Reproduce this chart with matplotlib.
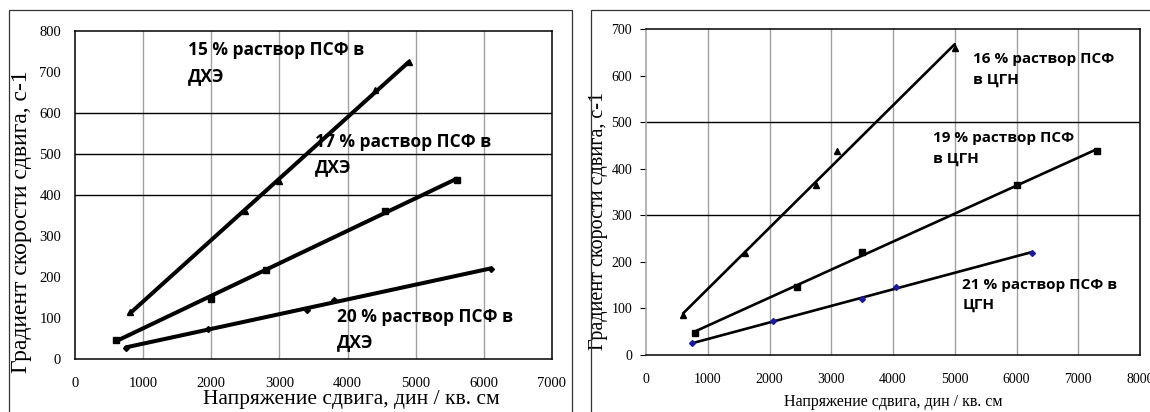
import numpy as np
import matplotlib
matplotlib.use("Agg")
import matplotlib.pyplot as plt
from matplotlib.patches import Rectangle

# left panel (ДХЭ)
x15 = [800, 2500, 3000, 4400, 4900]
y15 = [115, 360, 435, 655, 725]
x17 = [600, 2000, 2800, 4550, 5600]
y17 = [47, 147, 218, 362, 437]
x20 = [750, 1950, 3400, 3800, 6100]
y20 = [28, 72, 120, 143, 220]

# right panel (ЦГН)
x16 = [600, 1600, 2750, 3100, 5000]
y16 = [85, 220, 365, 437, 660]
x19 = [800, 2450, 3500, 6000, 7300]
y19 = [48, 147, 222, 365, 438]
x21 = [750, 2050, 3500, 4050, 6250]
y21 = [25, 72, 120, 147, 220]

serif = ['Liberation Serif', 'DejaVu Serif']
sans = ['Open Sans', 'DejaVu Sans']

fig = plt.figure(figsize=(11.5, 4.12), dpi=100)

# outer frames of the two pictures
fig.patches.append(Rectangle((9/1150, -0.1), (572-9)/1150, 0.1 + (412-10)/412,
                             transform=fig.transFigure, fill=False, ec='#333333', lw=0.9))
fig.patches.append(Rectangle((591/1150, -0.1), 0.6, 0.1 + (412-10)/412,
                             transform=fig.transFigure, fill=False, ec='#333333', lw=0.9))

ax1 = fig.add_axes([75/1150, (412-359)/412, (552-75)/1150, (359-31)/412])
ax2 = fig.add_axes([646/1150, (412-355)/412, (1140-646)/1150, (355-29)/412])


def trend(ax, x, y, lw):
    k, b = np.polyfit(x, y, 1)
    xs = np.array([min(x), max(x)])
    ax.plot(xs, k * xs + b, color='black', lw=lw, solid_capstyle='round', zorder=3)


# ---- left
for x, y, m, ms in [(x15, y15, '^', 4), (x17, y17, 's', 5), (x20, y20, 'D', 3)]:
    trend(ax1, x, y, 2.9)
    ax1.plot(x, y, ls='none', marker=m, ms=ms, color='black', zorder=4)

ax1.set_xlim(0, 7000)
ax1.set_ylim(0, 800)
ax1.set_xticks(range(0, 7001, 1000))
ax1.set_yticks(range(0, 801, 100))
for v in range(1000, 7000, 1000):
    ax1.axvline(v, color='#a0a0a0', lw=1, zorder=1)
for v in [400, 500, 600]:
    ax1.axhline(v, color='black', lw=1, zorder=1)
ax1.tick_params(length=0, labelsize=10.5, pad=10)
ax1.tick_params(axis='x', pad=13)
for s in ax1.spines.values():
    s.set_linewidth(1.1)
for lab in ax1.get_xticklabels() + ax1.get_yticklabels():
    lab.set_family(serif)
ax1.set_xlabel('Напряжение сдвига, дин / кв. см', family=serif, fontsize=15.5)
ax1.xaxis.set_label_coords(0.58, -0.095)
ax1.set_ylabel('Градиент скорости сдвига, с-1', family=serif, fontsize=17)
ax1.yaxis.set_label_coords(-0.09, 0.42)

txt = dict(family=sans, fontweight='bold', va='top', linespacing=1.55)
ax1.text(1660, 775, '15 % раствор ПСФ в\nДХЭ', fontsize=12.5, **txt)
ax1.text(3520, 552, '17 % раствор ПСФ в\nДХЭ', fontsize=12.5, **txt)
ax1.text(3850, 125, '20 % раствор ПСФ в\nДХЭ', fontsize=12.5, **txt)

# ---- right
trend(ax2, x16, y16, 1.9)
ax2.plot(x16, y16, ls='none', marker='^', ms=5, color='black', zorder=4)
trend(ax2, x19, y19, 1.9)
ax2.plot(x19, y19, ls='none', marker='s', ms=5, color='black', zorder=4)
trend(ax2, x21, y21, 1.9)
ax2.plot(x21, y21, ls='none', marker='D', ms=3, color='#1a1aa0', zorder=4)

ax2.set_xlim(0, 8000)
ax2.set_ylim(0, 700)
ax2.set_xticks(range(0, 8001, 1000))
ax2.set_yticks(range(0, 701, 100))
for v in range(1000, 8000, 1000):
    ax2.axvline(v, color='#a0a0a0', lw=1, zorder=1)
for v in [300, 500]:
    ax2.axhline(v, color='black', lw=1, zorder=1)
ax2.tick_params(axis='y', length=4, labelsize=10, pad=6)
ax2.tick_params(axis='x', length=0, labelsize=10, pad=13)
ax2.spines['left'].set_color('#a0a0a0')
for s in ax2.spines.values():
    s.set_linewidth(1.1)
for lab in ax2.get_xticklabels() + ax2.get_yticklabels():
    lab.set_family(serif)
ax2.set_xlabel('Напряжение сдвига, дин / кв. см', family=serif, fontsize=11.5, labelpad=6)
ax2.set_ylabel('Градиент скорости сдвига, с-1', family=serif, fontsize=14.5)
ax2.yaxis.set_label_coords(-0.077, 0.41)

ax2.text(5300, 650, '16 % раствор ПСФ\nв ЦГН', fontsize=11, **txt)
ax2.text(4650, 480, '19 % раствор ПСФ\nв ЦГН', fontsize=11, **txt)
ax2.text(5120, 165, '21 % раствор ПСФ в\nЦГН', fontsize=11, **txt)

fig.savefig('out.png', dpi=100)
